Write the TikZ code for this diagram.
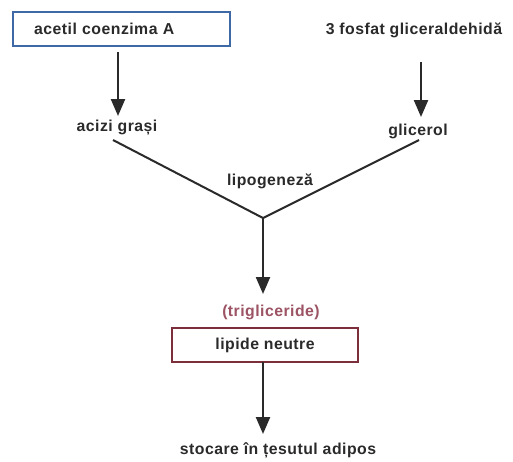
\documentclass[tikz,border=0pt]{standalone}
\usepackage{fontspec}
\setmainfont{Liberation Sans}[LetterSpace=3]
\usetikzlibrary{arrows.meta}
\definecolor{boxblue}{HTML}{3E68A6}
\definecolor{boxred}{HTML}{7C2F3A}
\definecolor{tgred}{HTML}{9C5363}
\definecolor{ink}{HTML}{2A2A2A}
\tikzset{
  lbl/.style={inner sep=0pt, text=ink, font=\fontsize{15.8}{18}\selectfont\bfseries},
  framed/.style={lbl, draw, line width=2.4pt, minimum height=34pt},
  flow/.style={draw=ink, line width=2.3pt, -{Triangle[length=17pt,width=14pt]}},
  meetline/.style={draw=ink, line width=2pt}
}
\begin{document}
\begin{tikzpicture}[x=1pt,y=-1pt]
  \useasboundingbox[fill=white] (0,0) rectangle (513,461);
  % sources
  \node[framed, draw=boxblue, anchor=west, minimum width=217pt, text width=175pt,
        inner xsep=21pt, align=left] (acetil) at (12,29) {acetil coenzima A};
  \node[lbl] (gald) at (414,30) {3 fosfat gliceraldehidă};
  % intermediates
  \node[lbl] (acizi) at (117,128) {acizi grași};
  \node[lbl] (glic) at (418,131) {glicerol};
  \node[lbl] (lipo) at (270,181) {lipogeneză};
  \coordinate (v) at (263,218);
  % product
  \node[lbl, text=tgred] (tg) at (271,312) {(trigliceride)};
  \node[framed, draw=boxred, minimum width=186pt] (ln) at (265,345) {lipide neutre};
  \node[lbl] (stoc) at (278,450) {stocare în țesutul adipos};
  % start and end points of the connectors
  \coordinate (a0) at (118,52);
  \coordinate (a1) at (118,116);
  \coordinate (g0) at (421,62);
  \coordinate (g1) at (421,117);
  \coordinate (l0) at (113,140);
  \coordinate (r0) at (419,140);
  \coordinate (v1) at (263,294);
  \coordinate (s0) at (263,362);
  \coordinate (s1) at (263,434);
  % connectors
  \draw[flow] (a0) -- (a1);
  \draw[flow] (g0) -- (g1);
  \draw[meetline, line join=miter] (l0) -- (v) -- (r0);
  \draw[flow] (v) -- (v1);
  \draw[flow] (s0) -- (s1);
\end{tikzpicture}
\end{document}
